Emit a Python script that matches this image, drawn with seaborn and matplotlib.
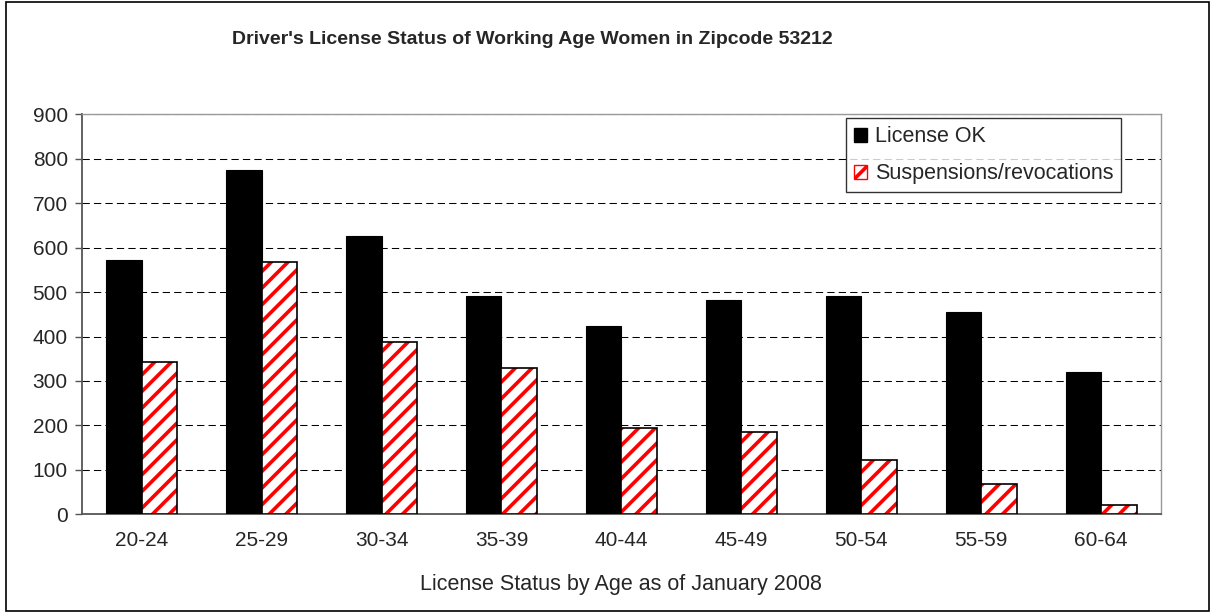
import matplotlib
matplotlib.use("Agg")
import matplotlib.pyplot as plt
import seaborn as sns
import pandas as pd
from matplotlib.patches import Patch, Rectangle

age_groups = ["20-24", "25-29", "30-34", "35-39", "40-44", "45-49", "50-54", "55-59", "60-64"]
license_ok = [572, 775, 627, 492, 424, 483, 492, 456, 321]
suspensions = [343, 568, 388, 329, 194, 185, 122, 69, 22]
series_names = ["License OK", "Suspensions/revocations"]
y_ticks = [0, 100, 200, 300, 400, 500, 600, 700, 800, 900]

title = "Driver's License Status of Working Age Women in Zipcode 53212"
xlabel = "License Status by Age as of January 2008"

df = pd.DataFrame({
    "age": age_groups * 2,
    "value": license_ok + suspensions,
    "series": [series_names[0]] * len(age_groups) + [series_names[1]] * len(age_groups),
})

sns.set_theme(style="white")
plt.rcParams["font.family"] = ["Liberation Sans", "DejaVu Sans"]
plt.rcParams["hatch.linewidth"] = 2.6

fig = plt.figure(figsize=(12.15, 6.15), dpi=100)
ax = fig.add_axes([0.0672, 0.1637, 0.8885, 0.6504])

sns.barplot(data=df, x="age", y="value", hue="series", order=age_groups,
            hue_order=series_names, palette=["black", "white"], width=0.59,
            gap=0, saturation=1, legend=False, ax=ax, errorbar=None, zorder=3)

n = len(age_groups)
patches = [p for p in ax.patches if isinstance(p, Rectangle)][: 2 * n]
for i, p in enumerate(patches):
    if i < n:
        p.set_edgecolor("black")
        p.set_linewidth(0.8)
    else:
        p.set_facecolor("white")
        p.set_edgecolor("red")
        p.set_hatch("//")
        p.set_linewidth(0)
        outline = Rectangle((p.get_x(), p.get_y()), p.get_width(), p.get_height(),
                            facecolor="none", edgecolor="black", linewidth=1.2, zorder=4)
        ax.add_patch(outline)

ax.set_ylim(0, 900)
ax.set_xlim(-0.5, n - 0.5)
ax.set_yticks(y_ticks)
ax.set_yticklabels([str(v) for v in y_ticks])
ax.yaxis.grid(True, color="black", linestyle=(0, (7, 4)), linewidth=0.75, zorder=0)
ax.set_axisbelow(True)
ax.set_xticks([i - 0.5 for i in range(n + 1)], minor=True)
ax.set_xticks(range(n))
ax.set_xticklabels(age_groups)
ax.tick_params(axis="x", which="major", length=0, pad=12, labelsize=15)
ax.tick_params(axis="x", which="minor", length=5, width=1, color="#555555", direction="out")
ax.tick_params(axis="y", which="major", length=5, width=1, color="#555555", direction="out",
               labelsize=15, left=True, pad=5)
ax.set_xlabel(xlabel, fontsize=15.5, labelpad=17)
ax.set_ylabel("")

for side in ["left", "bottom"]:
    ax.spines[side].set_color("#555555")
    ax.spines[side].set_linewidth(1.3)
for side in ["top", "right"]:
    ax.spines[side].set_color("#999999")
    ax.spines[side].set_linewidth(1)

handles = [Patch(facecolor="black", edgecolor="black", label=series_names[0]),
           Patch(facecolor="white", edgecolor="red", hatch="//", label=series_names[1])]
leg = ax.legend(handles=handles, loc="upper right", bbox_to_anchor=(0.963, 0.99),
                fontsize=15.5, frameon=True, fancybox=False, edgecolor="black",
                handlelength=0.6, handleheight=0.6, handletextpad=0.35,
                borderpad=0.37, labelspacing=0.75, borderaxespad=0)
leg.get_frame().set_linewidth(1)
leg.set_zorder(10)

fig.text(0.438, 0.935, title, ha="center", va="center", fontsize=14, fontweight="bold")

border = Rectangle((0.005, 0.006), 0.99, 0.99, transform=fig.transFigure,
                   facecolor="none", edgecolor="black", linewidth=1.2)
fig.patches.append(border)

fig.savefig("out.png", dpi=100)
